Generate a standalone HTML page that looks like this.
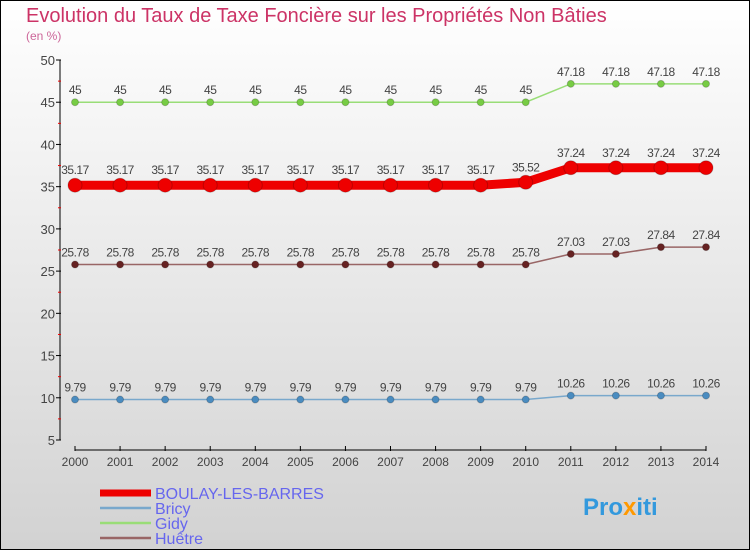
<!DOCTYPE html>
<html><head><meta charset="utf-8"><style>
body{margin:0}
svg{display:block;font-family:"Liberation Sans","DejaVu Sans",sans-serif}
</style></head><body>
<svg width="750" height="550" viewBox="0 0 750 550">
<defs><linearGradient id="bg" x1="0" y1="0" x2="0" y2="1"><stop offset="0" stop-color="#ffffff"/><stop offset="1" stop-color="#d2d2d2"/></linearGradient></defs>
<rect x="0.5" y="0.5" width="749" height="549" fill="url(#bg)" stroke="#000"/>
<text x="26" y="22" font-size="20" fill="#cc3366">Evolution du Taux de Taxe Foncière sur les Propriétés Non Bâties</text>
<text x="26" y="40" font-size="12" fill="#cc6699">(en %)</text>
<g id="axes"></g><g id="series"></g>
<g>
<line x1="100" y1="493" x2="151" y2="493" stroke="#ee0000" stroke-width="7"/>
<text x="155" y="499" font-size="16" fill="#6666ee">BOULAY-LES-BARRES</text>
<line x1="100" y1="508" x2="151" y2="508" stroke="#79a8cc" stroke-width="2.5"/>
<text x="155" y="514" font-size="16" fill="#6666ee">Bricy</text>
<line x1="100" y1="523" x2="151" y2="523" stroke="#99dd77" stroke-width="2.5"/>
<text x="155" y="529" font-size="16" fill="#6666ee">Gidy</text>
<line x1="100" y1="538" x2="151" y2="538" stroke="#996666" stroke-width="2.5"/>
<text x="155" y="544" font-size="16" fill="#6666ee">Huêtre</text>
</g>
<text x="583" y="515" font-size="24" font-weight="bold" fill="#3399dd">Pro<tspan fill="#ff9900">x</tspan>iti</text>
</svg>
<script>
const years=[2000,2001,2002,2003,2004,2005,2006,2007,2008,2009,2010,2011,2012,2013,2014];
const yTicks=[5,10,15,20,25,30,35,40,45,50];
const boulay=[35.17,35.17,35.17,35.17,35.17,35.17,35.17,35.17,35.17,35.17,35.52,37.24,37.24,37.24,37.24];
const bricy=[9.79,9.79,9.79,9.79,9.79,9.79,9.79,9.79,9.79,9.79,9.79,10.26,10.26,10.26,10.26];
const gidy=[45,45,45,45,45,45,45,45,45,45,45,47.18,47.18,47.18,47.18];
const huetre=[25.78,25.78,25.78,25.78,25.78,25.78,25.78,25.78,25.78,25.78,25.78,27.03,27.03,27.84,27.84];
const NS='http://www.w3.org/2000/svg';
const X=i=>75+i*(706-75)/(years.length-1);
const Y=v=>440-(v-5)*(380/45);
function mk(t,a,p){const e=document.createElementNS(NS,t);for(const k in a)e.setAttribute(k,a[k]);p.appendChild(e);return e;}
const ax=document.getElementById('axes');
mk('line',{x1:60,y1:60,x2:60,y2:440,stroke:'#000'},ax);
mk('line',{x1:75,y1:450,x2:706,y2:450,stroke:'#000'},ax);
yTicks.forEach(v=>{mk('line',{x1:56,y1:Y(v),x2:61,y2:Y(v),stroke:'#000'},ax);
 if(v<50)mk('line',{x1:58,y1:Y(v+2.5),x2:61,y2:Y(v+2.5),stroke:'#ee0000'},ax);
 const t=mk('text',{x:55,y:Y(v)+5,'font-size':13,fill:'#444','text-anchor':'end'},ax);t.textContent=v;
 
 });
years.forEach((yr,i)=>{mk('line',{x1:X(i),y1:446,x2:X(i),y2:451,stroke:'#000'},ax);
 const t=mk('text',{x:X(i),y:466,'font-size':12,fill:'#444','text-anchor':'middle'},ax);t.textContent=yr;
 
 });
const sg=document.getElementById('series');
function series(vals,name,color,fill,w,r,lbl){
 const g=mk('g',{},sg);
 
 
 mk('polyline',{points:vals.map((v,i)=>X(i)+','+Y(v)).join(' '),fill:'none',stroke:color,'stroke-width':w},g);
 vals.forEach((v,i)=>{const c=mk('circle',{cx:X(i),cy:Y(v),r:r,fill:fill,stroke:'#0003'},g);
  
  
  const t=mk('text',{x:X(i),y:Y(v)-lbl,'font-size':12,fill:'#444','text-anchor':'middle','letter-spacing':'-0.5'},g);t.textContent=v;
  
  });
}
series(gidy,'gidy-series','#99dd77','#77cc44',1.5,3.5,8);
series(huetre,'huetre-series','#996666','#662222',1.5,3.5,8);
series(bricy,'bricy-series','#79a8cc','#4a8cc0',1.5,3.5,8);
series(boulay,'boulay-series','#ee0000','#ee0000',9,7,11);
</script>
</body></html>
